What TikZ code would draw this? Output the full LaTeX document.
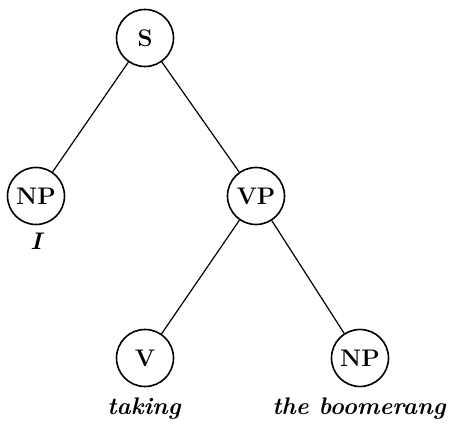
\documentclass[tikz,border=0pt]{standalone}
\usepackage{tikz}
\usetikzlibrary{positioning}
\tikzset{
  CAT/.style={% Style for category circles
      circle,
      line width=0.8pt,
      draw=black,
      minimum size=28.5pt,
      inner sep=0pt,
      font=\large\bfseries,
  },
  WRD/.style={% Style for the words below
      font=\large\bfseries\itshape,
      inner sep=1pt,
  },
  branch/.style={line width=0.6pt}
}

\begin{document}
\begin{tikzpicture}[x=0.5pt,y=-0.5pt]
    \useasboundingbox (0,0) rectangle (451,426);
    \node[CAT] (S) at (145,38) {S};
    \node[CAT] (NPa) at (36,196) {NP};
    \node[CAT] (VP) at (256,196) {VP};
    \node[CAT] (V) at (145,358) {V};
    \node[CAT] (NPb) at (360,358) {NP};
    \node[WRD] (I) at (36,241) {I};
    \node[WRD] (taking) at (144,409) {taking};
    \node[WRD] (boom) at (359,409) {the boomerang};
    \draw[branch]
      (S) -- (NPa)
      (S) -- (VP)
      (VP) -- (V)
      (VP) -- (NPb);
\end{tikzpicture}
\end{document}
